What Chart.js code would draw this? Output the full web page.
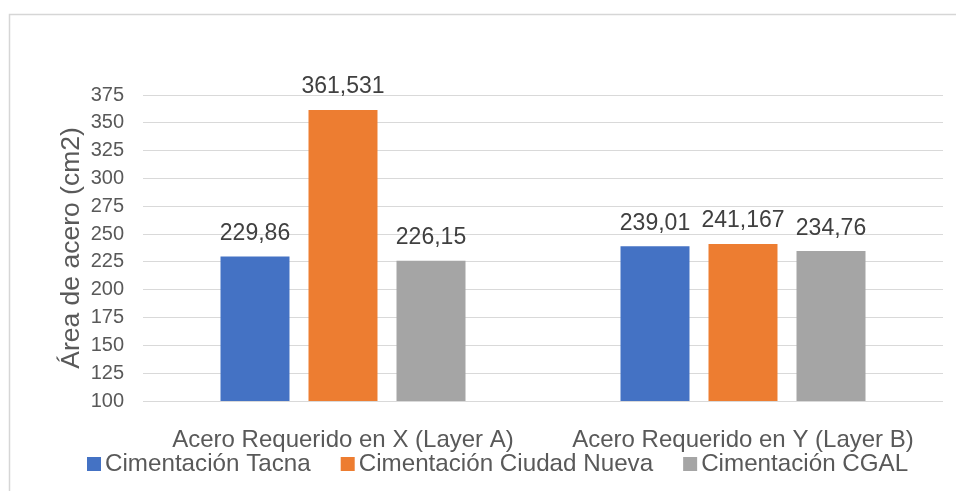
<!DOCTYPE html>
<html>
<head>
<meta charset="utf-8">
<script src="https://cdn.jsdelivr.net/npm/chart.js@4/dist/chart.umd.min.js"></script>
<style>
  html, body { margin: 0; padding: 0; background: #fff; }
  #wrap { width: 956px; height: 491px; }
</style>
</head>
<body>
<div id="wrap"><canvas id="steelChart" width="956" height="491"></canvas></div>
<script>
const categories = ["Acero Requerido en X (Layer A)", "Acero Requerido en Y (Layer B)"];
const seriesNames = ["Cimentación Tacna", "Cimentación Ciudad Nueva", "Cimentación CGAL"];
const tacna = [229.86, 239.01];
const ciudadNueva = [361.531, 241.167];
const cgal = [226.15, 234.76];
const yTicks = [100, 125, 150, 175, 200, 225, 250, 275, 300, 325, 350, 375];

const COLORS = ["#4472C4", "#ED7D31", "#A5A5A5"];
const FONT = "'Liberation Sans', Arial, sans-serif";
const GRID = "#d9d9d9";

// excel-style decimal comma
function fmt(v) {
  return String(v).replace(".", ",");
}

// light frame around the chart (left + top edges)
const framePlugin = {
  id: "frame",
  beforeDraw(chart) {
    const ctx = chart.ctx;
    ctx.save();
    ctx.strokeStyle = "#d6d6d6";
    ctx.lineWidth = 1.5;
    ctx.beginPath();
    ctx.moveTo(9.5, chart.height);
    ctx.lineTo(9.5, 14.5);
    ctx.lineTo(chart.width, 14.5);
    ctx.stroke();
    ctx.restore();
  }
};

// numbers above each bar
const valueLabels = {
  id: "valueLabels",
  afterDatasetsDraw(chart) {
    const ctx = chart.ctx;
    ctx.save();
    ctx.font = `23px ${FONT}`;
    ctx.fillStyle = "#404040";
    ctx.textAlign = "center";
    ctx.textBaseline = "alphabetic";
    chart.data.datasets.forEach((ds, i) => {
      chart.getDatasetMeta(i).data.forEach((bar, j) => {
        ctx.fillText(fmt(ds.data[j]), bar.x, bar.y - 16.5);
      });
    });
    ctx.restore();
  }
};

// legend row under the category labels
const bottomLegend = {
  id: "bottomLegend",
  afterDraw(chart) {
    const ctx = chart.ctx;
    ctx.save();
    ctx.font = `24.2px ${FONT}`;
    ctx.textBaseline = "alphabetic";
    let x = 87;
    const box = 14;
    const baseline = 471;
    chart.data.datasets.forEach(ds => {
      ctx.fillStyle = ds.backgroundColor;
      ctx.fillRect(x, 457, box, box);
      ctx.fillStyle = "#595959";
      ctx.fillText(ds.label, x + box + 4, baseline);
      x += box + 4 + ctx.measureText(ds.label).width + 30;
    });
    ctx.restore();
  }
};

const datasets = [tacna, ciudadNueva, cgal].map((data, i) => ({
  label: seriesNames[i],
  data,
  backgroundColor: COLORS[i],
  borderWidth: 0,
  categoryPercentage: 0.66,
  barPercentage: 0.784
}));

new Chart(document.getElementById("steelChart"), {
  type: "bar",
  data: { labels: categories, datasets },
  plugins: [framePlugin, valueLabels, bottomLegend],
  options: {
    responsive: false,
    animation: false,
    devicePixelRatio: 1,
    layout: { padding: { left: 56, right: 13, top: 95, bottom: 0 } },
    plugins: {
      legend: { display: false },
      tooltip: { enabled: false }
    },
    scales: {
      x: {
        grid: { display: false },
        border: { display: false },
        ticks: {
          color: "#595959",
          font: { family: FONT, size: 24 },
          padding: 17,
          maxRotation: 0
        },
        afterFit(scale) { scale.height = 90; }
      },
      y: {
        min: 100,
        max: 375,
        afterBuildTicks(scale) {
          scale.ticks = yTicks.map(v => ({ value: v }));
        },
        grid: { color: GRID, lineWidth: 1, drawTicks: false },
        border: { display: false },
        ticks: {
          color: "#595959",
          font: { family: FONT, size: 20 },
          padding: 19
        },
        title: {
          display: true,
          text: "Área de acero (cm2)",
          color: "#595959",
          font: { family: FONT, size: 26.5 },
          padding: 0
        },
        afterFit(scale) { scale.width = 87; }
      }
    }
  }
});
</script>
</body>
</html>
